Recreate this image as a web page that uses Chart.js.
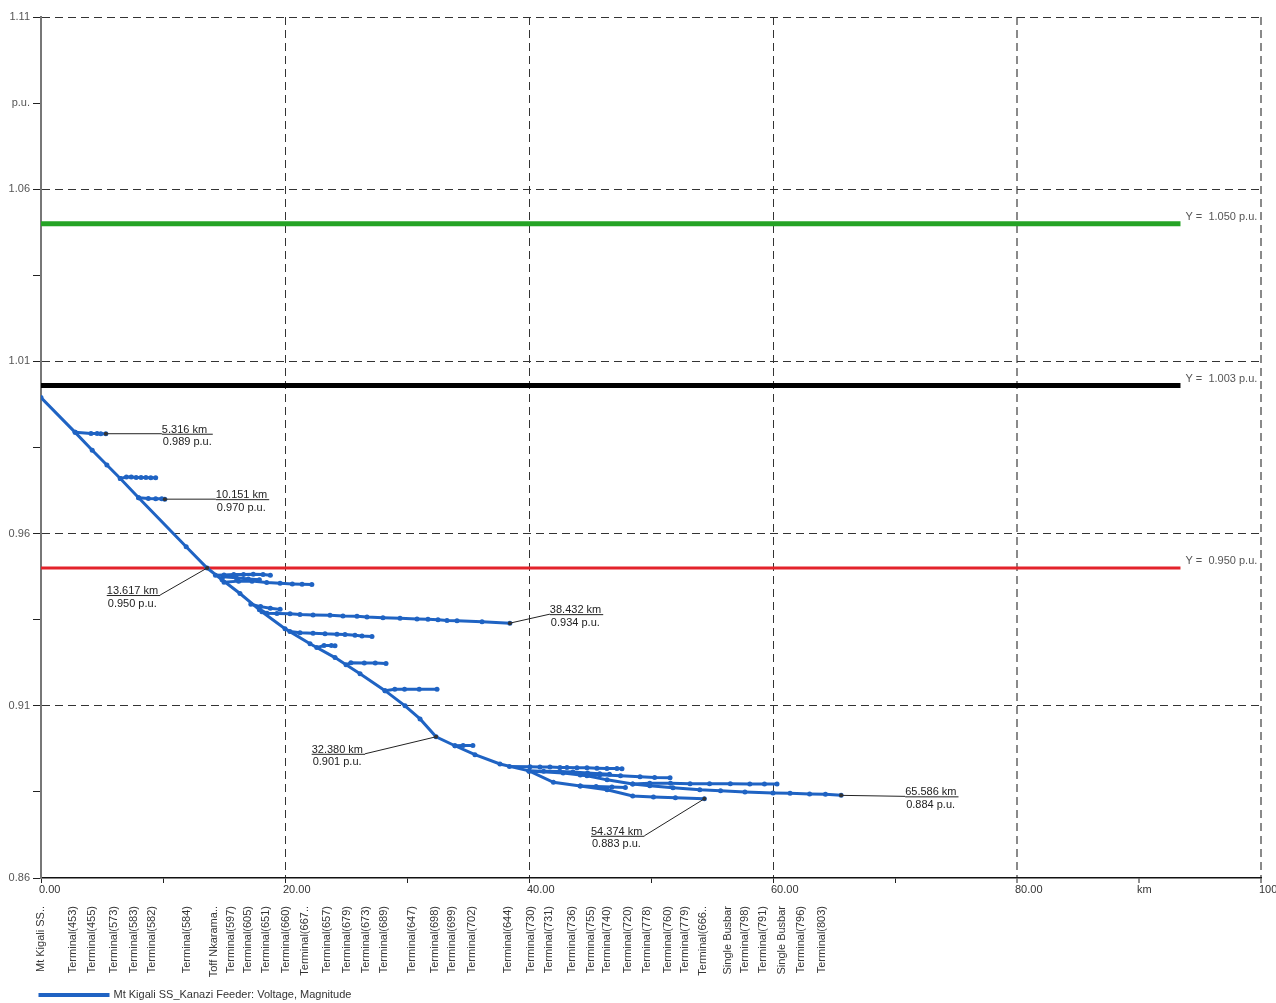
<!DOCTYPE html>
<html>
<head>
<meta charset="utf-8">
<title>Mt Kigali SS_Kanazi Feeder voltage profile</title>
<script src="https://cdn.jsdelivr.net/npm/chart.js@4/dist/chart.umd.min.js"></script>
<style>
  html, body { margin: 0; padding: 0; background: #fff; overflow: hidden; }
  canvas { display: block; }
</style>
</head>
<body>
<canvas id="profile" width="1276" height="1003"></canvas>
<script>
// ---- Feeder voltage profile: [distance km, voltage p.u.] per path ----
const trunk = [[0, 0.9995], [2.8, 0.9894], [4.2, 0.9842], [5.4, 0.9799], [6.5, 0.9760], [8.0, 0.9704],
  [11.9, 0.9562], [13.617, 0.950], [14.84, 0.9466], [16.31, 0.9426], [18.11, 0.9373], [20.0, 0.9324],
  [22.05, 0.9280], [24.1, 0.9240], [26.15, 0.9193], [28.2, 0.9144], [29.84, 0.9100], [31.07, 0.9062],
  [32.380, 0.901], [33.93, 0.8984], [35.57, 0.8958], [37.62, 0.8931], [40.0, 0.8911]];
const branch5 = [[2.8, 0.9894], [4.1, 0.9891], [4.6, 0.9891], [4.9, 0.9890], [5.316, 0.989]];
const branch9 = [[6.5, 0.9760], [7.0, 0.9764], [7.4, 0.9764], [7.8, 0.9763], [8.2, 0.9763], [8.6, 0.9763], [9.0, 0.9762], [9.4, 0.9762]];
const branch10 = [[8.0, 0.9704], [8.8, 0.9702], [9.4, 0.9701], [9.9, 0.9701], [10.151, 0.970]];
const branch18 = [[14.3, 0.9479], [15.0, 0.9480], [15.8, 0.9481], [16.6, 0.9481], [17.4, 0.9482], [18.2, 0.9481], [18.8, 0.9479]];
const branch17 = [[14.9, 0.9475], [16.0, 0.9472], [17.0, 0.9468], [17.9, 0.9466]];
const branch22 = [[15.0, 0.9459], [16.2, 0.9462], [17.3, 0.9462], [18.5, 0.9458], [19.6, 0.9456], [20.6, 0.9454], [21.4, 0.9453], [22.2, 0.9452]];
const branch19 = [[17.2, 0.9395], [18.0, 0.9388], [18.8, 0.9383], [19.6, 0.9380]];
const branch38 = [[17.9, 0.9379], [18.52, 0.9369], [19.34, 0.9368], [20.41, 0.9367], [21.23, 0.9365], [22.3, 0.9364],
  [23.69, 0.9363], [24.75, 0.9361], [25.9, 0.9360], [26.72, 0.9358], [28.03, 0.9356], [29.43, 0.9354],
  [30.82, 0.9352], [31.72, 0.9351], [32.54, 0.9350], [33.28, 0.9348], [34.1, 0.9347], [36.15, 0.9344], [38.432, 0.934]];
const branch27 = [[20.4, 0.9316], [21.23, 0.9312], [22.3, 0.9311], [23.28, 0.9309], [24.26, 0.9308], [24.92, 0.9307], [25.74, 0.9305], [26.31, 0.9303], [27.13, 0.9301]];
const branch24 = [[22.6, 0.9269], [23.2, 0.9275], [23.8, 0.9275], [24.1, 0.9274]];
const branch28 = [[25.0, 0.9219], [25.4, 0.9225], [26.5, 0.9224], [27.4, 0.9224], [28.28, 0.9223]];
const branch32 = [[28.2, 0.9144], [29.0, 0.9148], [29.8, 0.9148], [31.0, 0.9148], [32.46, 0.9148]];
const branch35 = [[33.93, 0.8984], [34.6, 0.8985], [35.4, 0.8985]];
const branch47 = [[38.4, 0.8924], [40.08, 0.8923], [40.9, 0.8922], [41.72, 0.8922], [42.54, 0.8921], [43.11, 0.8921],
  [43.93, 0.8920], [44.75, 0.8920], [45.57, 0.8919], [46.39, 0.8918], [47.21, 0.8918], [47.62, 0.8917]];
const branch46 = [[40.0, 0.8911], [41.2, 0.8910], [42.5, 0.8909], [43.6, 0.8908], [44.8, 0.8905], [45.8, 0.8903], [46.6, 0.8901]];
const branch65 = [[40.0, 0.8911], [42.8, 0.8905], [44.75, 0.8897], [46.4, 0.8885], [48.5, 0.8873], [49.9, 0.8868],
  [51.8, 0.8862], [54.0, 0.8856], [55.7, 0.8853], [57.7, 0.8850], [60.0, 0.8847], [61.4, 0.8846], [63.0, 0.8844], [64.3, 0.8843], [65.586, 0.884]];
const branch51 = [[44.2, 0.8899], [45.8, 0.8900], [47.5, 0.8897], [49.1, 0.8894], [50.3, 0.8892], [51.56, 0.8891]];
const branch60 = [[48.5, 0.8873], [49.9, 0.8875], [51.6, 0.8875], [53.2, 0.8874], [54.8, 0.8874], [56.5, 0.8874], [58.1, 0.8873], [59.3, 0.8873], [60.33, 0.8873]];
const branch54 = [[40.0, 0.8911], [42.0, 0.8878], [44.2, 0.8867], [46.4, 0.8856], [48.5, 0.8838], [50.2, 0.8835], [52.0, 0.8833], [54.374, 0.883]];
const branch48 = [[44.2, 0.8867], [45.5, 0.8866], [46.8, 0.8864], [47.9, 0.8863]];

const feederPaths = [trunk, branch5, branch9, branch10, branch18, branch17, branch22, branch19, branch38,
  branch27, branch24, branch28, branch32, branch35, branch47, branch46, branch65, branch51, branch60, branch54, branch48];

// Node names along the feeder and their distance (km)
const nodeNames = ['Mt Kigali SS..', 'Terminal(453)', 'Terminal(455)', 'Terminal(573)', 'Terminal(583)', 'Terminal(582)',
  'Terminal(584)', 'Toff Nkarama..', 'Terminal(597)', 'Terminal(605)', 'Terminal(651)', 'Terminal(660)', 'Terminal(667..',
  'Terminal(657)', 'Terminal(679)', 'Terminal(673)', 'Terminal(689)', 'Terminal(647)', 'Terminal(698)', 'Terminal(699)',
  'Terminal(702)', 'Terminal(644)', 'Terminal(730)', 'Terminal(731)', 'Terminal(736)', 'Terminal(755)', 'Terminal(740)',
  'Terminal(720)', 'Terminal(778)', 'Terminal(760)', 'Terminal(779)', 'Terminal(666..', 'Single Busbar', 'Terminal(798)',
  'Terminal(791)', 'Single Busbar', 'Terminal(796)', 'Terminal(803)'];
const nodeKm = [0.0, 2.6, 4.2, 6.0, 7.6, 9.1, 12.0, 14.2, 15.6, 17.0, 18.4, 20.1, 21.6, 23.4, 25.1, 26.6, 28.1, 30.4,
  32.3, 33.7, 35.3, 38.3, 40.2, 41.6, 43.5, 45.1, 46.4, 48.1, 49.7, 51.4, 52.8, 54.3, 56.3, 57.7, 59.2, 60.7, 62.3, 64.0];

// Voltage limit lines (p.u.) and the distance they run to
const limitLevels = [1.050, 1.003, 0.950];
const limitEndKm = 93.4;

// Labelled points: [km, p.u.]
const callouts = [[5.316, 0.989], [10.151, 0.970], [13.617, 0.950], [38.432, 0.934], [32.380, 0.901], [54.374, 0.883], [65.586, 0.884]];

// Axis tick labels
const xTickText = { 0: '0.00', 20: '20.00', 40: '40.00', 60: '60.00', 80: '80.00', 90: 'km', 100: '100.00' };
const yUnitTick = 1.085;

// ---- styling ----
const FONT = "'Liberation Sans', Arial, sans-serif";
const FEEDER_BLUE = '#1f63c3';
const LIMIT_COLORS = ['#25a325', '#000000', '#e3232b'];
const LIMIT_WIDTHS = [5, 5, 3];
const calloutOffsets = [[56, 0], [51, 0], [-47, 27], [40, -9], [-71, 17], [-60, 37], [64, 1]];
const LEGEND_LEFT = 38;
const LEGEND_TEXT_Y = 995;

const toXY = arr => arr.map(([x, y]) => ({ x, y }));

const datasets = feederPaths.map((path, i) => ({
  label: i === 0 ? 'Mt Kigali SS_Kanazi Feeder: Voltage, Magnitude' : '',
  data: toXY(path),
  borderColor: FEEDER_BLUE,
  backgroundColor: FEEDER_BLUE,
  borderWidth: 3,
  pointRadius: 2.5,
  pointBackgroundColor: FEEDER_BLUE,
  pointBorderWidth: 0,
  tension: 0,
  fill: false
}));
limitLevels.forEach((v, i) => {
  datasets.push({
    label: '',
    data: [{ x: 0, y: v }, { x: limitEndKm, y: v }],
    borderColor: LIMIT_COLORS[i],
    backgroundColor: LIMIT_COLORS[i],
    borderWidth: LIMIT_WIDTHS[i],
    pointRadius: 0,
    fill: false
  });
});

// Legend sits under the node labels, indented to the plot's left edge
const legendPlacement = {
  id: 'legendPlacement',
  afterLayout(chart) {
    const lg = chart.legend;
    if (!lg) return;
    const dx = LEGEND_LEFT - lg.left;
    lg.left += dx; lg.right += dx;
    const pad = lg.options.labels.padding;
    const fs = lg.options.labels.font.size;
    const dy = LEGEND_TEXT_Y - (lg.top + pad + fs / 2);
    lg.top += dy; lg.bottom += dy;
  }
};

// Labels on limit lines and callouts for key points
const annotate = {
  id: 'annotate',
  afterDatasetsDraw(chart) {
    const { ctx } = chart;
    const xs = chart.scales.x, ys = chart.scales.y;
    ctx.save();
    ctx.font = '11px ' + FONT;
    ctx.fillStyle = '#555';
    ctx.textAlign = 'left';
    ctx.textBaseline = 'alphabetic';
    limitLevels.forEach(v => {
      ctx.fillText('Y =  ' + v.toFixed(3) + ' p.u.', xs.getPixelForValue(limitEndKm) + 5, ys.getPixelForValue(v) - 4);
    });
    ctx.strokeStyle = '#222';
    ctx.lineWidth = 1;
    callouts.forEach(([km, pu], i) => {
      const px = xs.getPixelForValue(km), py = ys.getPixelForValue(pu);
      const [dx, dy] = calloutOffsets[i];
      const ex = px + dx, ey = py + dy;
      const t1 = km.toFixed(3) + ' km', t2 = pu.toFixed(3) + ' p.u.';
      const w = Math.max(ctx.measureText(t1).width, ctx.measureText(t2).width) + 2;
      const x0 = dx < 0 ? ex - w : ex;
      ctx.beginPath();
      ctx.moveTo(px, py);
      ctx.lineTo(ex, ey);
      ctx.moveTo(x0, ey + 0.5);
      ctx.lineTo(x0 + w, ey + 0.5);
      ctx.stroke();
      ctx.beginPath();
      ctx.arc(px, py, 2, 0, Math.PI * 2);
      ctx.fillStyle = '#333';
      ctx.fill();
      ctx.fillStyle = '#222';
      ctx.textBaseline = 'alphabetic';
      ctx.fillText(t1, x0, ey - 1);
      ctx.textBaseline = 'top';
      ctx.fillText(t2, x0 + 1, ey + 3);
    });
    ctx.restore();
  }
};

new Chart(document.getElementById('profile'), {
  type: 'line',
  data: { datasets },
  options: {
    responsive: false,
    animation: false,
    devicePixelRatio: 1,
    layout: { padding: { left: 0, top: 17, right: 15, bottom: 0 } },
    plugins: {
      tooltip: { enabled: false },
      legend: {
        position: 'bottom',
        align: 'start',
        labels: {
          filter: item => item.datasetIndex === 0,
          boxWidth: 68,
          boxHeight: 1,
          padding: 2,
          color: '#333',
          font: { family: FONT, size: 11 }
        }
      }
    },
    scales: {
      x: {
        type: 'linear',
        position: 'bottom',
        min: 0, max: 100,
        weight: 0,
        ticks: {
          stepSize: 10,
          autoSkip: false,
          maxRotation: 0,
          align: 'start',
          labelOffset: -2,
          padding: 0,
          color: '#333',
          font: { family: FONT, size: 11 },
          callback: v => xTickText[Math.round(v)] ?? ''
        },
        grid: {
          color: c => {
            const v = Math.round(c.tick ? c.tick.value : 0);
            if (v === 0 || v % 20 !== 0) return 'rgba(0,0,0,0)';
            return v >= 80 ? '#8a8a8a' : '#333';
          },
          lineWidth: c => (c.tick && c.tick.value >= 80 ? 2 : 1),
          tickColor: '#222',
          tickWidth: 1,
          tickLength: 5,
          tickBorderDash: []
        },
        border: { display: true, color: '#111', width: 1.5, dash: [8, 5] },
        afterFit: s => { s.height = 26; s.paddingLeft = 0; s.paddingRight = 0; }
      },
      nodes: {
        type: 'linear',
        position: 'bottom',
        min: 0, max: 100,
        weight: 1,
        afterBuildTicks: s => { s.ticks = nodeKm.map(v => ({ value: v })); },
        ticks: {
          autoSkip: false,
          minRotation: 90,
          maxRotation: 90,
          padding: 2,
          color: '#333',
          font: { family: FONT, size: 11 },
          callback: (v, i) => nodeNames[i]
        },
        grid: { display: false, drawTicks: false },
        border: { display: false },
        afterFit: s => { s.height = 76; s.paddingLeft = 0; s.paddingRight = 0; }
      },
      y: {
        type: 'linear',
        position: 'left',
        min: 0.86, max: 1.11,
        ticks: {
          stepSize: 0.025,
          autoSkip: false,
          padding: 3,
          color: '#555',
          font: { family: FONT, size: 11 },
          callback: (v, i) => Math.abs(v - yUnitTick) < 1e-6 ? 'p.u.' : (i % 2 === 0 ? v.toFixed(2) : '')
        },
        grid: {
          color: c => (c.index > 0 && c.index % 2 === 0 ? '#333' : 'rgba(0,0,0,0)'),
          lineWidth: 1,
          tickColor: '#222',
          tickWidth: 1,
          tickLength: 8,
          tickBorderDash: []
        },
        border: { display: true, color: '#777', width: 2, dash: [8, 5] },
        afterFit: s => { s.width = 41; s.paddingTop = 0; s.paddingBottom = 0; }
      }
    }
  },
  plugins: [legendPlacement, annotate]
});
</script>
</body>
</html>
